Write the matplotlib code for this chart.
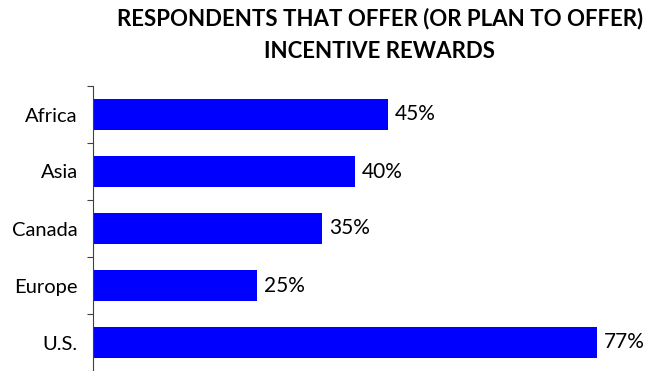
import matplotlib
matplotlib.use("Agg")
import matplotlib.pyplot as plt

regions = ["Africa", "Asia", "Canada", "Europe", "U.S."]
shares = [45, 40, 35, 25, 77]
title = "RESPONDENTS THAT OFFER (OR PLAN TO OFFER)\nINCENTIVE REWARDS"

plt.rcParams['font.family'] = ['Lato', 'DejaVu Sans']

W, H = 650, 371
fig = plt.figure(figsize=(W / 100, H / 100), dpi=100)
ax = fig.add_axes([93 / W, 0, (W - 93) / W, (371 - 86) / H])

y = list(range(len(regions)))
ax.barh(y, shares, height=0.55, color='#0000ff')
for yi, v in zip(y, shares):
    ax.annotate(f"{v}%", (v, yi), xytext=(5, 0), textcoords='offset points',
                va='center', ha='left', fontsize=15, color='black')

ax.set_ylim(len(regions) - 0.5, -0.5)
ax.set_xlim(0, 85.1)
ax.set_yticks(y)
ax.set_yticklabels(regions, fontsize=14.5)
ax.set_yticks([i - 0.5 for i in range(len(regions) + 1)], minor=True)
ax.tick_params(axis='y', which='major', length=0, pad=11)
ax.tick_params(axis='y', which='minor', length=4, width=0.8, color='#404040')
ax.set_xticks([])
for side in ['top', 'right', 'bottom']:
    ax.spines[side].set_visible(False)
ax.spines['left'].set_color('#404040')
ax.spines['left'].set_linewidth(0.8)

fig.text(380 / W, 1 - 35 / H, title, ha='center', va='center',
         fontsize=16, fontweight='bold', linespacing=1.65)

fig.savefig("out.png", dpi=100)
